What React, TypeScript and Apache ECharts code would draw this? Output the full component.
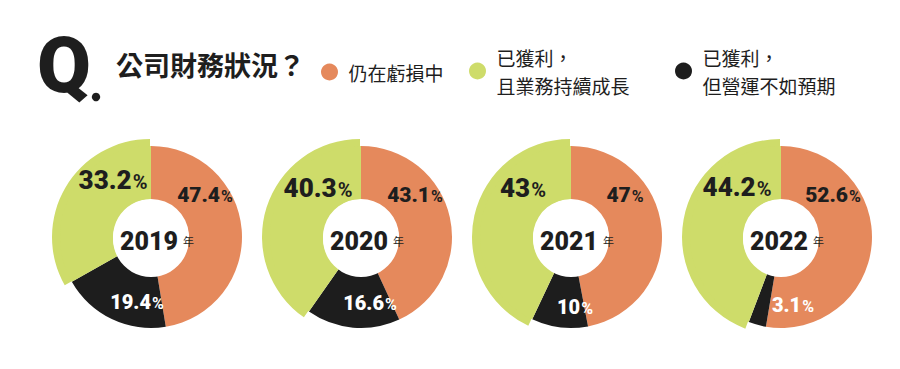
import React, { useEffect, useRef } from 'react';
import * as echarts from 'echarts';

// ---- data ----
const YEARS = ['2019', '2020', '2021', '2022'];
const LOSS = [47.4, 43.1, 47, 52.6]; // 仍在虧損中
const UNDERPERFORM = [19.4, 16.6, 10, 3.1]; // 已獲利，但營運不如預期
const GROWTH = [33.2, 40.3, 43, 44.2]; // 已獲利，且業務持續成長
const NAME_LOSS = '仍在虧損中';
const NAME_GROWTH = '已獲利，\n且業務持續成長';
const NAME_UNDER = '已獲利，\n但營運不如預期';

// ---- layout / style ----
const C_LOSS = '#E5895C';
const C_GROWTH = '#CEDC6A';
const C_UNDER = '#1D1D1D';
const TEXT = '#1E1E1E';
const CX0 = 151;
const DX = 210;
const CY = 237;
const LABEL_Y0 = 240;
const R0 = 38;
const R1 = 91;
const RG = 98;
const NUM_FONT = 'Roboto';
const CJK_FONT = '"Noto Sans CJK TC", "Noto Sans CJK SC", sans-serif';
// label anchors relative to (cx, LABEL_Y0): [loss, under, growth]
const LABEL_AT: number[][][] = [
  [[54, -45], [-14, 62], [-38, -60]],
  [[54, -45], [9, 63], [-43, -52]],
  [[54, -45], [4, 67], [-48, -52]],
  [[52, -45], [12, 65], [-44, -53]],
];

function pctRich(size: number, color: string) {
  return {
    n: { fontFamily: NUM_FONT, fontWeight: 900, fontSize: size, color, verticalAlign: 'bottom', lineHeight: size },
    p: { fontFamily: NUM_FONT, fontWeight: 'bold', fontSize: Math.round(size * 0.78), color, verticalAlign: 'bottom', lineHeight: size, padding: [0, 0, 1, 1] },
  };
}

export default function App() {
  const ref = useRef<HTMLDivElement>(null);
  useEffect(() => {
    if (!ref.current) return;
    const chart = echarts.init(ref.current, null, { renderer: 'svg' });
    const series: any[] = [];
    YEARS.forEach((year, i) => {
      const cx = CX0 + DX * i;
      const vals = [LOSS[i], UNDERPERFORM[i], GROWTH[i]];
      // enlarged growth slice underneath
      series.push({
        type: 'pie',
        silent: true,
        z: 1,
        center: [cx - 1, CY],
        radius: [R0, RG],
        startAngle: 90,
        clockwise: true,
        label: { show: false },
        labelLine: { show: false },
        data: [
          { name: '_a' + i, value: vals[0], itemStyle: { color: 'transparent' } },
          { name: '_b' + i, value: vals[1], itemStyle: { color: 'transparent' } },
          { name: NAME_GROWTH, value: vals[2], itemStyle: { color: C_GROWTH } },
        ],
      });
      // main ring
      const at = LABEL_AT[i];
      series.push({
        type: 'pie',
        silent: true,
        z: 2,
        center: [cx, CY],
        radius: [R0, R1],
        startAngle: 90,
        clockwise: true,
        labelLine: { show: false },
        label: {
          show: true,
          position: 'inside',
          formatter: (p: any) => `{n|${p.value}}{p|%}`,
        },
        labelLayout: (p: any) => ({
          x: cx + at[p.dataIndex][0],
          y: LABEL_Y0 + at[p.dataIndex][1],
          align: 'center',
          verticalAlign: 'middle',
        }),
        data: [
          { name: NAME_LOSS, value: vals[0], itemStyle: { color: C_LOSS }, label: { rich: pctRich(21, TEXT) } },
          { name: NAME_UNDER, value: vals[1], itemStyle: { color: C_UNDER }, label: { rich: pctRich(20, '#FFFFFF') } },
          { name: NAME_GROWTH, value: vals[2], itemStyle: { color: C_GROWTH }, label: { rich: pctRich(26, TEXT) } },
        ],
      });
      // center hole + year label
      series.push({
        type: 'pie',
        silent: true,
        z: 3,
        center: [cx, LABEL_Y0 - 1],
        radius: [0, R0],
        labelLine: { show: false },
        label: {
          show: true,
          position: 'center',
          formatter: `{y|${year}}{u|年}`,
          rich: {
            y: { fontFamily: NUM_FONT, fontWeight: 900, fontSize: 25, color: TEXT },
            u: { fontFamily: CJK_FONT, fontSize: 11, color: TEXT, padding: [0, 0, 0, 5] },
          },
        },
        labelLayout: () => ({ x: cx + 6, y: LABEL_Y0 + 1, align: 'center', verticalAlign: 'middle' }),
        data: [{ name: '_y' + i, value: 1, itemStyle: { color: '#FFFFFF' } }],
      });
    });

    const legendItems = [
      { name: NAME_LOSS, color: C_LOSS, left: 321, top: 58 },
      { name: NAME_GROWTH, color: C_GROWTH, left: 469, top: 43 },
      { name: NAME_UNDER, color: C_UNDER, left: 675, top: 43 },
    ];

    chart.setOption({
      animation: false,
      backgroundColor: '#FFFFFF',
      legend: legendItems.map((l) => ({
        data: [{ name: l.name, itemStyle: { color: l.color } }],
        left: l.left,
        top: l.top,
        padding: 0,
        icon: 'circle',
        itemWidth: 28,
        itemHeight: 17,
        selectedMode: false,
        textStyle: { fontFamily: CJK_FONT, fontSize: 19, lineHeight: 28, color: TEXT },
      })),
      graphic: [
        {
          type: 'text',
          left: 37,
          top: 26,
          style: { text: 'Q', fontFamily: NUM_FONT, fontWeight: 900, fontSize: 78, fill: TEXT },
        },
        { type: 'circle', shape: { cx: 96, cy: 97, r: 4.2 }, style: { fill: TEXT } },
        {
          type: 'text',
          left: 116,
          top: 51,
          style: { text: '公司財務狀況？', fontFamily: CJK_FONT, fontWeight: 'bold', fontSize: 27, fill: TEXT },
        },
      ],
      series,
    });
    return () => chart.dispose();
  }, []);
  return <div ref={ref} style={{ position: 'fixed', left: 0, top: 0, width: 900, height: 369 }} />;
}
